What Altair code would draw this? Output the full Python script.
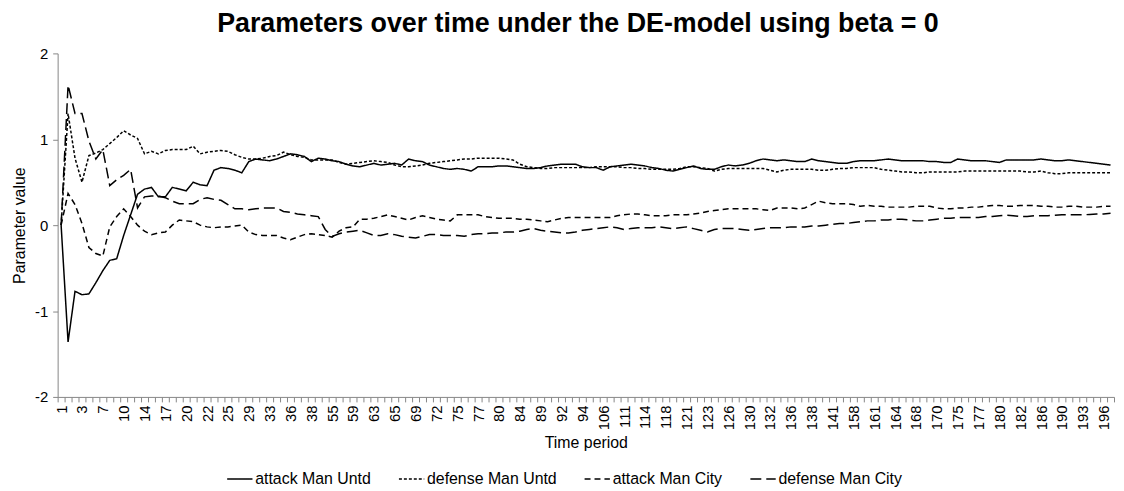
import json
import altair as alt
import pandas as pd

# Category tick labels (every third time-period category is labelled)
tick_labels = [1, 3, 7, 10, 14, 17, 20, 22, 25, 29, 33, 36, 38, 55, 59, 63, 65, 69, 72, 75,
               77, 80, 84, 89, 92, 94, 106, 111, 114, 118, 121, 123, 126, 130, 132, 136, 138,
               141, 158, 161, 164, 168, 170, 175, 177, 180, 182, 186, 190, 193, 196]

series_names = ["attack Man Untd", "defense Man Untd", "attack Man City", "defense Man City"]

attack_utd = [
    0.0, -1.36, -0.77, -0.81, -0.80, -0.67, -0.53, -0.41, -0.39, -0.12,
    0.12, 0.36, 0.42, 0.44, 0.33, 0.33, 0.44, 0.42, 0.40, 0.50,
    0.47, 0.46, 0.64, 0.67, 0.66, 0.64, 0.61, 0.74, 0.77, 0.76,
    0.75, 0.77, 0.80, 0.83, 0.82, 0.80, 0.74, 0.78, 0.77, 0.75,
    0.74, 0.71, 0.69, 0.68, 0.70, 0.72, 0.70, 0.71, 0.72, 0.70,
    0.77, 0.75, 0.74, 0.70, 0.68, 0.66, 0.65, 0.66, 0.65, 0.63,
    0.68, 0.68, 0.68, 0.69, 0.69, 0.68, 0.67, 0.66, 0.66, 0.67,
    0.69, 0.70, 0.71, 0.71, 0.71, 0.68, 0.67, 0.67, 0.64, 0.68,
    0.69, 0.70, 0.71, 0.70, 0.69, 0.67, 0.66, 0.64, 0.63, 0.65,
    0.67, 0.69, 0.66, 0.65, 0.65, 0.68, 0.70, 0.69, 0.70, 0.72,
    0.75, 0.77, 0.76, 0.75, 0.76, 0.75, 0.74, 0.74, 0.77, 0.75,
    0.74, 0.73, 0.72, 0.72, 0.74, 0.75, 0.75, 0.75, 0.76, 0.77,
    0.76, 0.75, 0.75, 0.75, 0.75, 0.74, 0.74, 0.73, 0.73, 0.77,
    0.76, 0.75, 0.75, 0.75, 0.74, 0.73, 0.76, 0.76, 0.76, 0.76,
    0.76, 0.77, 0.76, 0.75, 0.75, 0.76, 0.75, 0.74, 0.73, 0.72,
    0.71, 0.70]

defense_utd = [
    0.0, 1.30, 0.78, 0.50, 0.81, 0.84, 0.88, 0.95, 1.02, 1.10,
    1.05, 1.01, 0.83, 0.86, 0.83, 0.87, 0.88, 0.88, 0.88, 0.92,
    0.83, 0.85, 0.86, 0.87, 0.86, 0.82, 0.79, 0.77, 0.77, 0.78,
    0.80, 0.81, 0.85, 0.82, 0.80, 0.79, 0.76, 0.76, 0.76, 0.76,
    0.73, 0.71, 0.72, 0.73, 0.74, 0.75, 0.74, 0.73, 0.70, 0.68,
    0.68, 0.69, 0.70, 0.72, 0.73, 0.74, 0.75, 0.76, 0.77, 0.77,
    0.78, 0.78, 0.78, 0.78, 0.77, 0.76, 0.71, 0.68, 0.67, 0.66,
    0.66, 0.67, 0.67, 0.67, 0.67, 0.67, 0.67, 0.68, 0.68, 0.68,
    0.68, 0.67, 0.67, 0.66, 0.66, 0.65, 0.65, 0.65, 0.65, 0.66,
    0.68, 0.68, 0.67, 0.66, 0.63, 0.65, 0.66, 0.66, 0.66, 0.66,
    0.66, 0.66, 0.64, 0.62, 0.64, 0.65, 0.65, 0.65, 0.65, 0.64,
    0.64, 0.65, 0.66, 0.66, 0.67, 0.67, 0.67, 0.67, 0.65, 0.64,
    0.63, 0.62, 0.62, 0.61, 0.61, 0.62, 0.62, 0.62, 0.62, 0.62,
    0.63, 0.63, 0.63, 0.63, 0.63, 0.63, 0.63, 0.63, 0.63, 0.62,
    0.62, 0.63, 0.61, 0.60, 0.60, 0.61, 0.61, 0.61, 0.61, 0.61,
    0.61, 0.61]

attack_city = [
    0.0, 0.37, 0.24, 0.02, -0.26, -0.33, -0.36, -0.02, 0.10, 0.19,
    0.10, 0.0, -0.07, -0.11, -0.09, -0.08, 0.0, 0.06, 0.05, 0.04,
    0.0, -0.02, -0.03, -0.02, -0.02, -0.01, 0.0, -0.08, -0.11, -0.12,
    -0.12, -0.12, -0.15, -0.17, -0.14, -0.11, -0.10, -0.11, -0.12, -0.14,
    -0.07, -0.03, -0.02, 0.07, 0.07, 0.08, 0.10, 0.12, 0.10, 0.08,
    0.06, 0.09, 0.11, 0.09, 0.07, 0.06, 0.05, 0.12, 0.12, 0.12,
    0.12, 0.10, 0.09, 0.08, 0.08, 0.08, 0.07, 0.07, 0.06, 0.05,
    0.04, 0.06, 0.08, 0.09, 0.09, 0.09, 0.09, 0.09, 0.09, 0.09,
    0.11, 0.12, 0.13, 0.13, 0.12, 0.11, 0.11, 0.11, 0.12, 0.12,
    0.12, 0.13, 0.14, 0.16, 0.17, 0.18, 0.19, 0.19, 0.19, 0.19,
    0.19, 0.18, 0.17, 0.20, 0.20, 0.20, 0.19, 0.20, 0.24, 0.28,
    0.26, 0.25, 0.25, 0.25, 0.24, 0.22, 0.23, 0.22, 0.22, 0.21,
    0.21, 0.21, 0.21, 0.22, 0.22, 0.22, 0.20, 0.19, 0.19, 0.20,
    0.20, 0.21, 0.21, 0.22, 0.23, 0.23, 0.22, 0.22, 0.23, 0.23,
    0.23, 0.22, 0.22, 0.21, 0.21, 0.22, 0.22, 0.21, 0.21, 0.21,
    0.22, 0.22]

defense_city = [
    0.0, 1.63, 1.30, 1.30, 0.98, 0.77, 0.88, 0.46, 0.53, 0.58,
    0.65, 0.20, 0.33, 0.34, 0.34, 0.32, 0.28, 0.25, 0.25, 0.25,
    0.30, 0.32, 0.30, 0.29, 0.24, 0.19, 0.19, 0.18, 0.19, 0.20,
    0.20, 0.20, 0.16, 0.15, 0.13, 0.12, 0.11, 0.10, -0.05, -0.13,
    -0.10, -0.08, -0.07, -0.06, -0.09, -0.12, -0.12, -0.10, -0.11, -0.13,
    -0.14, -0.15, -0.13, -0.11, -0.11, -0.12, -0.12, -0.12, -0.13, -0.11,
    -0.10, -0.10, -0.09, -0.09, -0.08, -0.08, -0.07, -0.05, -0.04, -0.06,
    -0.07, -0.08, -0.09, -0.09, -0.08, -0.06, -0.05, -0.04, -0.03, -0.02,
    -0.03, -0.05, -0.04, -0.03, -0.03, -0.03, -0.02, -0.03, -0.04, -0.03,
    -0.02, -0.04, -0.06, -0.08, -0.05, -0.04, -0.04, -0.04, -0.05, -0.06,
    -0.05, -0.04, -0.03, -0.03, -0.03, -0.02, -0.02, -0.02, -0.01, -0.01,
    0.0, 0.01, 0.02, 0.02, 0.03, 0.04, 0.05, 0.05, 0.06, 0.06,
    0.07, 0.07, 0.06, 0.05, 0.05, 0.06, 0.07, 0.08, 0.08, 0.09,
    0.09, 0.09, 0.09, 0.10, 0.10, 0.11, 0.115, 0.11, 0.10, 0.10,
    0.11, 0.11, 0.11, 0.115, 0.12, 0.12, 0.12, 0.12, 0.125, 0.13,
    0.13, 0.14]

all_series = [attack_utd, defense_utd, attack_city, defense_city]
rows = []
for name, vals in zip(series_names, all_series):
    for i, v in enumerate(vals):
        rows.append({"idx": i, "series": name, "value": v})
df = pd.DataFrame(rows)

n_cat = len(attack_utd)
FONT = "Liberation Sans"
GREY = "#868686"

label_expr = (
    "((datum.value + 0.5) % 3 === 0) ? " + json.dumps([str(t) for t in tick_labels])
    + "[(datum.value + 0.5) / 3] : ''"
)

chart = alt.Chart(df).mark_line(strokeWidth=1.5, color="black").encode(
    x=alt.X(
        "idx:Q",
        scale=alt.Scale(domain=[-0.5, n_cat - 0.5], nice=False, zero=False),
        axis=alt.Axis(
            title="Time period",
            values=[k - 0.5 for k in range(n_cat + 1)],
            labelExpr=label_expr,
            labelAngle=270,
            labelOffset=3.5,
            labelOverlap=False,
            labelFlush=False,
            labelPadding=3,
            labelFontSize=15,
            labelFont=FONT,
            labelColor="black",
            tickSize=5,
            tickColor=GREY,
            domainColor=GREY,
            grid=False,
            titleFont=FONT,
            titleFontSize=16,
            titleFontWeight="normal",
            titleColor="black",
            titlePadding=5,
        ),
    ),
    y=alt.Y(
        "value:Q",
        scale=alt.Scale(domain=[-2, 2], nice=False),
        axis=alt.Axis(
            title="Parameter value",
            values=[-2, -1, 0, 1, 2],
            labelExpr="datum.value < 0 ? '-' + abs(datum.value) : '' + datum.value",
            labelFontSize=15,
            labelFont=FONT,
            labelColor="black",
            labelPadding=5,
            tickSize=5,
            tickColor=GREY,
            domainColor=GREY,
            grid=False,
            titleFont=FONT,
            titleFontSize=16,
            titleFontWeight="normal",
            titleColor="black",
            titlePadding=7,
        ),
    ),
    strokeDash=alt.StrokeDash(
        "series:N",
        scale=alt.Scale(
            domain=series_names,
            range=[[1, 0], [3, 2], [6, 4], [11, 5]],
        ),
        legend=alt.Legend(
            title=None,
            orient="none",
            legendX=170,
            legendY=415,
            direction="horizontal",
            symbolType="stroke",
            symbolSize=650,
            symbolStrokeWidth=1.5,
            symbolStrokeColor="black",
            labelFont=FONT,
            labelFontSize=16,
            labelColor="black",
            columnPadding=24,
            labelOffset=2,
        ),
    ),
    detail="series:N",
).properties(
    width=1064,
    height=346,
    title=alt.TitleParams(
        "Parameters over time under the DE-model using beta = 0",
        font=FONT,
        fontSize=27,
        fontWeight="bold",
        color="black",
        anchor="middle",
        offset=9,
        dx=-8,
    ),
    autosize=alt.AutoSizeParams(type="none"),
    padding={"left": 50, "top": 44, "right": 2, "bottom": 90},
).configure_view(stroke=None)

chart.save("out.html", embed_options={"renderer": "svg", "actions": False})
